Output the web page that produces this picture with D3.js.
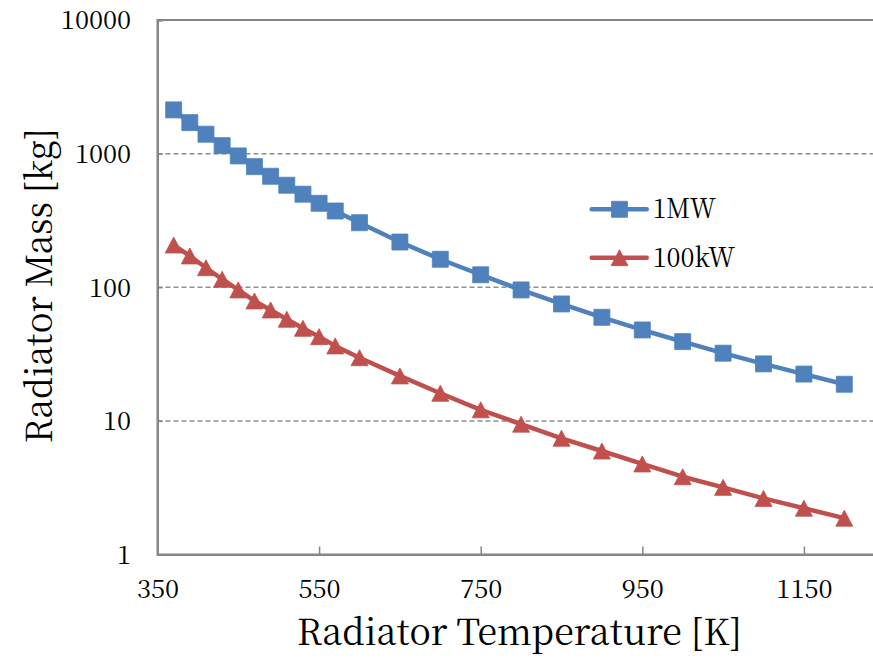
<!DOCTYPE html>
<html>
<head>
<meta charset="utf-8">
<script src="https://cdn.jsdelivr.net/npm/d3@7"></script>
<style>
  html, body { margin: 0; padding: 0; background: #fff; }
  svg { display: block; }
</style>
</head>
<body>
<svg id="chart" width="873" height="659"></svg>
<script>
// Radiator temperature [K]
const temps = [370, 390, 410, 430, 450, 470, 490, 510, 530, 550, 570,
               600, 650, 700, 750, 800, 850, 900, 950, 1000, 1050, 1100, 1150, 1200];
// Radiator mass [kg], 1 MW case
const mass1MW = [2124, 1706, 1397, 1148, 961, 799, 677, 580, 497, 425, 372,
                 304, 218, 162, 124, 95.5, 75.0, 59.6, 47.9, 39.2, 32.1, 26.7, 22.4, 18.8];
// Radiator mass [kg], 100 kW case
const mass100kW = [207, 171.5, 140, 114.8, 95.5, 79, 67.6, 57.6, 49.3, 42.7, 36.4,
                   29.7, 21.7, 16.1, 12.1, 9.45, 7.41, 5.95, 4.76, 3.82, 3.18, 2.63, 2.22, 1.87];
const seriesNames = ["1MW", "100kW"];
const xTicks = [350, 550, 750, 950, 1150];
const yTicks = [1, 10, 100, 1000, 10000];
const yGrid = [10, 100, 1000];

const blue = "#4f81bd", red = "#c0504d", axisGray = "#868686";
const fontFam = '"Noto Serif CJK JP", "Liberation Serif", serif';

const svg = d3.select("#chart");
const plotLeft = 157.5, plotTop = 20, plotBottom = 554.5;
const x = d3.scaleLinear().domain([350, 1250]).range([plotLeft, plotLeft + 900 * 0.808]);
const y = d3.scaleLog().domain([1, 10000]).range([plotBottom, plotTop]);

// dashed horizontal gridlines
svg.append("g").selectAll("line").data(yGrid).join("line")
  .attr("x1", plotLeft).attr("x2", x(1250))
  .attr("y1", d => y(d)).attr("y2", d => y(d))
  .attr("stroke", "#8e8e8e").attr("stroke-width", 1.5)
  .attr("stroke-dasharray", "5,3");

// plot area frame
svg.append("rect")
  .attr("x", plotLeft).attr("y", plotTop)
  .attr("width", x(1250) - plotLeft).attr("height", plotBottom - plotTop)
  .attr("fill", "none").attr("stroke", axisGray).attr("stroke-width", 2);

// x axis with inward ticks
const gx = svg.append("g").attr("transform", `translate(0,${plotBottom})`)
  .call(d3.axisBottom(x).tickValues(xTicks).tickSize(-8).tickFormat(d3.format("d")));
gx.select(".domain").attr("stroke", axisGray).attr("stroke-width", 2);
gx.selectAll(".tick line").attr("stroke", axisGray).attr("stroke-width", 1.5);
gx.selectAll(".tick text")
  .attr("y", 43.5).attr("dy", 0)
  .style("font-family", fontFam).style("font-size", "25.5px").attr("fill", "#000");

// y axis (log) with inward ticks
const gy = svg.append("g").attr("transform", `translate(${plotLeft},0)`)
  .call(d3.axisLeft(y).tickValues(yTicks).tickSize(-5).tickFormat(d3.format("d")));
gy.select(".domain").attr("stroke", axisGray).attr("stroke-width", 2);
gy.selectAll(".tick line").attr("stroke", axisGray).attr("stroke-width", 1.5);
gy.selectAll(".tick text")
  .attr("x", -26.5).attr("dy", 8.8)
  .style("font-family", fontFam).style("font-size", "25.5px").attr("fill", "#000");

// axis titles
svg.append("text")
  .attr("x", 296.7).attr("y", 645.3)
  .attr("textLength", 445).attr("lengthAdjust", "spacingAndGlyphs")
  .style("font-family", fontFam).style("font-size", "36px").attr("fill", "#000")
  .text("Radiator Temperature [K]");
svg.append("text")
  .attr("transform", "translate(51.7,443.3) rotate(-90)")
  .attr("textLength", 315).attr("lengthAdjust", "spacingAndGlyphs")
  .style("font-family", fontFam).style("font-size", "36px").attr("fill", "#000")
  .text("Radiator Mass [kg]");

// marker shapes
const squarePath = s => `M${-s/2},${-s/2}h${s}v${s}h${-s}Z`;
const trianglePath = (w, h) => `M0,${-h/2}L${w/2},${h/2}L${-w/2},${h/2}Z`;

const series = [
  { name: seriesNames[0], values: mass1MW, color: blue, marker: squarePath(16) },
  { name: seriesNames[1], values: mass100kW, color: red, marker: trianglePath(17, 16) }
];

const line = d3.line().x(d => x(d[0])).y(d => y(d[1]));

series.forEach(s => {
  const pts = temps.map((t, i) => [t, s.values[i]]);
  svg.append("path").datum(pts)
    .attr("d", line)
    .attr("fill", "none").attr("stroke", s.color)
    .attr("stroke-width", 4.5).attr("stroke-linejoin", "round").attr("stroke-linecap", "round");
  svg.append("g").selectAll("path").data(pts).join("path")
    .attr("transform", d => `translate(${x(d[0])},${y(d[1])})`)
    .attr("d", s.marker)
    .attr("fill", s.color).attr("stroke", s.color).attr("stroke-width", 0.8);
});

// legend
const legendY = [209.3, 257.7];
const legendTextLen = [63, 82.3];
series.forEach((s, i) => {
  const g = svg.append("g").attr("transform", `translate(0,${legendY[i]})`);
  g.append("line").attr("x1", 591.7).attr("x2", 646.7).attr("y1", 0).attr("y2", 0)
    .attr("stroke", s.color).attr("stroke-width", 4.5).attr("stroke-linecap", "round");
  g.append("path").attr("transform", "translate(619.5,0)").attr("d", s.marker)
    .attr("fill", s.color).attr("stroke", s.color).attr("stroke-width", 0.8);
  g.append("text").attr("x", 652.7).attr("y", 9)
    .attr("textLength", legendTextLen[i]).attr("lengthAdjust", "spacingAndGlyphs")
    .style("font-family", fontFam).style("font-size", "27px").attr("fill", "#000")
    .text(s.name);
});
</script>
</body>
</html>
